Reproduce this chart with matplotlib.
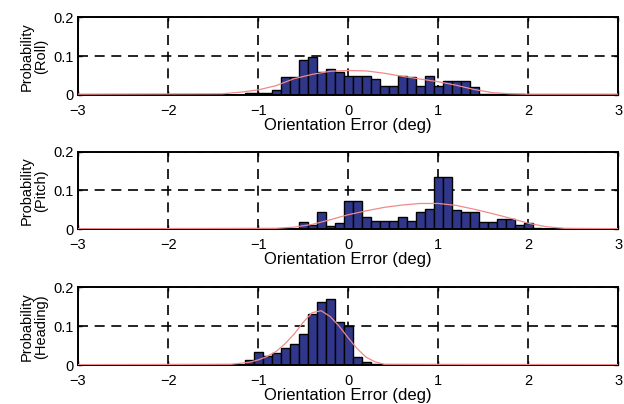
import numpy as np
import matplotlib.pyplot as plt

plt.rcParams["font.family"] = ["Liberation Sans", "DejaVu Sans"]

# histogram bin centres (deg) and probabilities
roll_x = [-1.1, -1.0, -0.9, -0.8, -0.7, -0.6, -0.5, -0.4, -0.3, -0.2, -0.1,
          0.0, 0.1, 0.2, 0.3, 0.4, 0.5, 0.6, 0.7, 0.8, 0.9, 1.0, 1.1, 1.2,
          1.3, 1.4, 1.5, 1.6, 1.7, 1.8, 1.9]
roll_p = [0.004, 0.004, 0.004, 0.014, 0.046, 0.046, 0.089, 0.099, 0.06,
          0.068, 0.06, 0.05, 0.048, 0.048, 0.04, 0.022, 0.022, 0.05, 0.047,
          0.024, 0.05, 0.022, 0.035, 0.035, 0.035, 0.02, 0.003, 0.003,
          0.003, 0.003, 0.003]

pitch_x = [-0.5, -0.4, -0.3, -0.2, -0.1, 0.0, 0.1, 0.2, 0.3, 0.4, 0.5, 0.6,
           0.7, 0.8, 0.9, 1.0, 1.1, 1.2, 1.3, 1.4, 1.5, 1.6, 1.7, 1.8, 1.9,
           2.0, 2.1]
pitch_p = [0.018, 0.01, 0.044, 0.008, 0.016, 0.072, 0.072, 0.032, 0.022,
           0.022, 0.022, 0.031, 0.022, 0.043, 0.051, 0.133, 0.133, 0.05,
           0.045, 0.043, 0.018, 0.018, 0.026, 0.026, 0.01, 0.016, 0.003]

heading_x = [-1.1, -1.0, -0.9, -0.8, -0.7, -0.6, -0.5, -0.4, -0.3, -0.2,
             -0.1, 0.0, 0.1, 0.2, 0.3]
heading_p = [0.013, 0.034, 0.023, 0.032, 0.043, 0.055, 0.081, 0.131,
             0.163, 0.171, 0.112, 0.1, 0.02, 0.007, 0.003]

# fitted curves (red), sampled from the figure
roll_fit_x = [-3.0, -1.4, -1.2, -1.0, -0.8, -0.6, -0.4, -0.2, 0.0, 0.2, 0.4,
              0.6, 0.8, 1.0, 1.2, 1.4, 1.6, 1.8, 2.0, 3.0]
roll_fit_y = [0.002, 0.003, 0.007, 0.013, 0.024, 0.042, 0.053, 0.061, 0.063,
              0.062, 0.056, 0.048, 0.041, 0.034, 0.025, 0.014, 0.006, 0.003,
              0.002, 0.002]

pitch_fit_x = [-3.0, -0.8, -0.6, -0.4, -0.2, 0.0, 0.2, 0.4, 0.6, 0.8, 1.0,
               1.2, 1.4, 1.6, 1.8, 2.0, 2.2, 2.4, 3.0]
pitch_fit_y = [0.001, 0.002, 0.005, 0.012, 0.024, 0.037, 0.047, 0.056, 0.062,
               0.066, 0.066, 0.061, 0.051, 0.04, 0.028, 0.015, 0.006, 0.002,
               0.001]

heading_fit_x = [-3.0, -1.3, -1.1, -1.0, -0.9, -0.8, -0.7, -0.6, -0.5, -0.4,
                 -0.3, -0.2, -0.1, 0.0, 0.1, 0.2, 0.3, 0.4, 3.0]
heading_fit_y = [0.001, 0.002, 0.007, 0.013, 0.022, 0.035, 0.055, 0.08, 0.11,
                 0.135, 0.14, 0.125, 0.1, 0.07, 0.042, 0.02, 0.008, 0.002,
                 0.001]

panels = [
    ("Probability\n(Roll)", roll_x, roll_p, roll_fit_x, roll_fit_y),
    ("Probability\n(Pitch)", pitch_x, pitch_p, pitch_fit_x, pitch_fit_y),
    ("Probability\n(Heading)", heading_x, heading_p, heading_fit_x, heading_fit_y),
]

fig = plt.figure(figsize=(6.24, 4.04), dpi=100)

bottoms = [0.765, 0.433, 0.0965]
for (ylabel, bx, bp, fx, fy), bottom in zip(panels, bottoms):
    ax = fig.add_axes([0.125, bottom, 0.866, 0.192])
    ax.set_axisbelow(True)
    ax.bar(bx, bp, width=0.1, color="#30378a", edgecolor="black", linewidth=1.0)
    ax.plot(fx, fy, color="#f08a8a", linewidth=0.9, zorder=3)

    ax.set_xlim(-3, 3)
    ax.set_ylim(0, 0.2)
    ax.set_xticks(range(-3, 4))
    ax.set_yticks([0, 0.1, 0.2])
    ax.set_yticklabels(["0", "0.1", "0.2"])
    ax.grid(True, color="black", linestyle=(0, (6, 4)), linewidth=1.2)
    ax.tick_params(direction="in", length=3, width=1, labelsize=10.5,
                   top=True, right=True)
    ax.tick_params(axis="x", pad=6.5)
    ax.tick_params(axis="y", pad=3)
    for spine in ax.spines.values():
        spine.set_linewidth(1.4)

    ax.set_xlabel("Orientation Error (deg)", fontsize=12, labelpad=0)
    ax.set_ylabel(ylabel, fontsize=10.5, linespacing=1.0, labelpad=4)

fig.savefig("out.png", dpi=100)
